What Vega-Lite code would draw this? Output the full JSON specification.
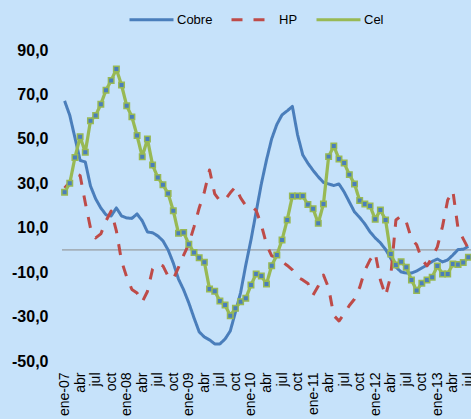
{
  "$schema": "https://vega.github.io/schema/vega-lite/v6.json",
  "width": 409,
  "height": 311,
  "autosize": {"type": "none"},
  "padding": {"left": 62, "top": 50, "right": 0, "bottom": 58},
  "background": "#C6E2FA",
  "config": {
    "view": {"stroke": null},
    "font": "Liberation Sans"
  },
  "data": {
    "values": [
      {"mes": "2007-01", "Cobre": 67.1, "HP": 27.9, "Cel": 26.0},
      {"mes": "2007-02", "Cobre": 60.6, "HP": 30.5, "Cel": 30.0},
      {"mes": "2007-03", "Cobre": 50.5, "HP": 34.5, "Cel": 41.6},
      {"mes": "2007-04", "Cobre": 40.3, "HP": 33.5, "Cel": 50.9},
      {"mes": "2007-05", "Cobre": 39.6, "HP": 21.2, "Cel": 44.0},
      {"mes": "2007-06", "Cobre": 28.8, "HP": 9.9, "Cel": 58.1},
      {"mes": "2007-07", "Cobre": 23.0, "HP": 5.4, "Cel": 60.5},
      {"mes": "2007-08", "Cobre": 18.9, "HP": 7.2, "Cel": 65.6},
      {"mes": "2007-09", "Cobre": 15.8, "HP": 13.1, "Cel": 71.9},
      {"mes": "2007-10", "Cobre": 15.3, "HP": 17.5, "Cel": 76.3},
      {"mes": "2007-11", "Cobre": 18.9, "HP": 8.6, "Cel": 81.4},
      {"mes": "2007-12", "Cobre": 15.3, "HP": -5.0, "Cel": 74.2},
      {"mes": "2008-01", "Cobre": 14.4, "HP": -12.2, "Cel": 64.9},
      {"mes": "2008-02", "Cobre": 14.2, "HP": -17.8, "Cel": 59.9},
      {"mes": "2008-03", "Cobre": 16.2, "HP": -19.4, "Cel": 51.5},
      {"mes": "2008-04", "Cobre": 13.1, "HP": -23.4, "Cel": 41.9},
      {"mes": "2008-05", "Cobre": 8.1, "HP": -18.7, "Cel": 49.9},
      {"mes": "2008-06", "Cobre": 7.7, "HP": -8.6, "Cel": 38.2},
      {"mes": "2008-07", "Cobre": 6.3, "HP": -6.3, "Cel": 32.6},
      {"mes": "2008-08", "Cobre": 4.1, "HP": -7.2, "Cel": 29.3},
      {"mes": "2008-09", "Cobre": 0.0, "HP": -11.9, "Cel": 25.4},
      {"mes": "2008-10", "Cobre": -5.9, "HP": -13.1, "Cel": 17.6},
      {"mes": "2008-11", "Cobre": -13.1, "HP": -7.9, "Cel": 7.5},
      {"mes": "2008-12", "Cobre": -18.0, "HP": -2.3, "Cel": 7.8},
      {"mes": "2009-01", "Cobre": -23.9, "HP": 2.7, "Cel": 2.6},
      {"mes": "2009-02", "Cobre": -30.6, "HP": 10.4, "Cel": -1.2},
      {"mes": "2009-03", "Cobre": -36.9, "HP": 18.9, "Cel": -3.5},
      {"mes": "2009-04", "Cobre": -39.2, "HP": 26.1, "Cel": -5.5},
      {"mes": "2009-05", "Cobre": -40.5, "HP": 36.0, "Cel": -17.6},
      {"mes": "2009-06", "Cobre": -42.3, "HP": 25.2, "Cel": -18.6},
      {"mes": "2009-07", "Cobre": -42.3, "HP": 22.1, "Cel": -23.0},
      {"mes": "2009-08", "Cobre": -40.1, "HP": 22.5, "Cel": -24.8},
      {"mes": "2009-09", "Cobre": -36.5, "HP": 25.7, "Cel": -29.6},
      {"mes": "2009-10", "Cobre": -28.0, "HP": 28.4, "Cel": -26.3},
      {"mes": "2009-11", "Cobre": -19.2, "HP": 23.4, "Cel": -23.3},
      {"mes": "2009-12", "Cobre": -6.8, "HP": 20.0, "Cel": -21.8},
      {"mes": "2010-01", "Cobre": 4.5, "HP": 19.8, "Cel": -15.8},
      {"mes": "2010-02", "Cobre": 17.1, "HP": 17.8, "Cel": -10.8},
      {"mes": "2010-03", "Cobre": 29.7, "HP": 11.3, "Cel": -11.7},
      {"mes": "2010-04", "Cobre": 40.5, "HP": 2.5, "Cel": -15.3},
      {"mes": "2010-05", "Cobre": 50.0, "HP": -2.7, "Cel": -7.1},
      {"mes": "2010-06", "Cobre": 56.5, "HP": -3.4, "Cel": -2.3},
      {"mes": "2010-07", "Cobre": 60.8, "HP": -5.2, "Cel": 4.5},
      {"mes": "2010-08", "Cobre": 62.6, "HP": -7.0, "Cel": 13.5},
      {"mes": "2010-09", "Cobre": 64.6, "HP": -9.0, "Cel": 24.3},
      {"mes": "2010-10", "Cobre": 51.8, "HP": -12.2, "Cel": 24.3},
      {"mes": "2010-11", "Cobre": 42.8, "HP": -13.5, "Cel": 24.3},
      {"mes": "2010-12", "Cobre": 39.0, "HP": -15.1, "Cel": 20.4},
      {"mes": "2011-01", "Cobre": 35.8, "HP": -20.3, "Cel": 18.5},
      {"mes": "2011-02", "Cobre": 32.9, "HP": -16.2, "Cel": 12.0},
      {"mes": "2011-03", "Cobre": 30.4, "HP": -11.3, "Cel": 20.7},
      {"mes": "2011-04", "Cobre": 29.7, "HP": -17.1, "Cel": 42.0},
      {"mes": "2011-05", "Cobre": 29.0, "HP": -29.5, "Cel": 46.8},
      {"mes": "2011-06", "Cobre": 29.7, "HP": -32.0, "Cel": 40.9},
      {"mes": "2011-07", "Cobre": 26.1, "HP": -28.8, "Cel": 39.1},
      {"mes": "2011-08", "Cobre": 21.6, "HP": -25.0, "Cel": 33.9},
      {"mes": "2011-09", "Cobre": 17.1, "HP": -22.1, "Cel": 29.7},
      {"mes": "2011-10", "Cobre": 14.6, "HP": -16.9, "Cel": 22.2},
      {"mes": "2011-11", "Cobre": 11.7, "HP": -9.2, "Cel": 20.7},
      {"mes": "2011-12", "Cobre": 8.1, "HP": -4.5, "Cel": 19.8},
      {"mes": "2012-01", "Cobre": 5.4, "HP": -1.4, "Cel": 13.8},
      {"mes": "2012-02", "Cobre": 3.2, "HP": -13.5, "Cel": 18.0},
      {"mes": "2012-03", "Cobre": 0.2, "HP": -20.7, "Cel": 13.5},
      {"mes": "2012-04", "Cobre": -3.8, "HP": -11.7, "Cel": -1.8},
      {"mes": "2012-05", "Cobre": -7.7, "HP": 13.5, "Cel": -6.8},
      {"mes": "2012-06", "Cobre": -9.9, "HP": 15.3, "Cel": -5.3},
      {"mes": "2012-07", "Cobre": -10.4, "HP": 12.6, "Cel": -7.8},
      {"mes": "2012-08", "Cobre": -10.4, "HP": 5.0, "Cel": -13.5},
      {"mes": "2012-09", "Cobre": -9.5, "HP": 2.3, "Cel": -18.3},
      {"mes": "2012-10", "Cobre": -8.1, "HP": -4.1, "Cel": -15.0},
      {"mes": "2012-11", "Cobre": -6.8, "HP": -7.2, "Cel": -13.5},
      {"mes": "2012-12", "Cobre": -5.2, "HP": -3.2, "Cel": -12.3},
      {"mes": "2013-01", "Cobre": -4.1, "HP": 1.4, "Cel": -7.2},
      {"mes": "2013-02", "Cobre": -5.4, "HP": 10.6, "Cel": -10.8},
      {"mes": "2013-03", "Cobre": -4.5, "HP": 22.5, "Cel": -10.8},
      {"mes": "2013-04", "Cobre": -2.3, "HP": 26.6, "Cel": -6.3},
      {"mes": "2013-05", "Cobre": 0.2, "HP": 9.5, "Cel": -6.6},
      {"mes": "2013-06", "Cobre": 0.3, "HP": 5.0, "Cel": -5.7},
      {"mes": "2013-07", "Cobre": 1.6, "HP": 0.5, "Cel": -3.3}
    ]
  },
  "transform": [{"fold": ["Cobre", "HP", "Cel"], "as": ["serie", "valor"]}],
  "encoding": {
    "x": {
      "field": "mes",
      "type": "ordinal",
      "scale": {"type": "point", "padding": 0.5},
      "axis": {
        "title": null,
        "values": ["2007-01", "2007-04", "2007-07", "2007-10", "2008-01", "2008-04", "2008-07", "2008-10", "2009-01", "2009-04", "2009-07", "2009-10", "2010-01", "2010-04", "2010-07", "2010-10", "2011-01", "2011-04", "2011-07", "2011-10", "2012-01", "2012-04", "2012-07", "2012-10", "2013-01", "2013-04", "2013-07"],
        "labelExpr": "substring(datum.value, 5, 7) == '01' ? 'ene-' + substring(datum.value, 2, 4) : substring(datum.value, 5, 7) == '04' ? 'abr' : substring(datum.value, 5, 7) == '07' ? 'jul' : 'oct'",
        "labelAngle": 270,
        "labelFontSize": 14,
        "labelColor": "#000000",
        "labelPadding": 11,
        "labelOverlap": false,
        "domain": false,
        "ticks": false,
        "grid": false
      }
    },
    "y": {
      "field": "valor",
      "type": "quantitative",
      "scale": {"domain": [-50, 90], "nice": false, "zero": false},
      "axis": {
        "title": null,
        "values": [-50, -30, -10, 10, 30, 50, 70, 90],
        "labelExpr": "(datum.value < 0 ? '-' : '') + replace(format(abs(datum.value), '.1f'), '.', ',')",
        "labelFontSize": 16,
        "labelFontWeight": "bold",
        "labelColor": "#000000",
        "labelPadding": 14,
        "domain": false,
        "ticks": false,
        "grid": false
      }
    },
    "color": {
      "field": "serie",
      "type": "nominal",
      "scale": {"domain": ["Cobre", "HP", "Cel"], "range": ["#4A7EBB", "#BE4B48", "#98B954"]},
      "legend": {
        "title": null,
        "orient": "none",
        "legendX": 66,
        "legendY": -54,
        "direction": "horizontal",
        "symbolType": "stroke",
        "symbolSize": 1936,
        "symbolStrokeWidth": 3,
        "labelFontSize": 13,
        "labelColor": "#000000",
        "labelOffset": 2,
        "columnPadding": 12,
        "padding": 0
      }
    },
    "strokeDash": {
      "field": "serie",
      "type": "nominal",
      "scale": {"domain": ["Cobre", "HP", "Cel"], "range": [[1, 0], [11, 11], [1, 0]]}
    }
  },
  "layer": [
    {
      "data": {"values": [{"valor": 0}]},
      "mark": {"type": "rule", "color": "#8C8C8C", "strokeWidth": 1},
      "encoding": {
        "x": null,
        "color": null,
        "strokeDash": null,
        "y": {"field": "valor", "type": "quantitative"}
      }
    },
    {
      "transform": [{"filter": "datum.serie === 'Cobre'"}],
      "mark": {"type": "line", "strokeWidth": 3, "strokeJoin": "round"}
    },
    {
      "transform": [{"filter": "datum.serie === 'HP'"}],
      "mark": {"type": "line", "strokeWidth": 3, "strokeJoin": "round"}
    },
    {
      "transform": [{"filter": "datum.serie === 'Cel'"}],
      "mark": {"type": "line", "strokeWidth": 3.25, "strokeJoin": "round"}
    },
    {
      "transform": [{"filter": "datum.serie === 'Cel'"}],
      "mark": {"type": "point", "shape": "square", "filled": true, "size": 30, "fill": "#4A7EBB", "stroke": "#98B954", "strokeWidth": 1.5, "opacity": 1},
      "encoding": {"color": null, "strokeDash": null}
    }
  ]
}
